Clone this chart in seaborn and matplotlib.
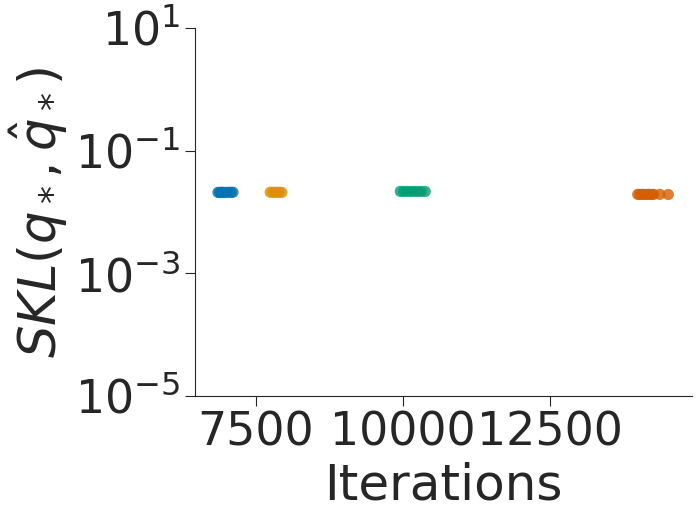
import seaborn as sns
import pandas as pd
import matplotlib.pyplot as plt

# iterations at which each run converged, and the SKL reached
blue_iters = [6852, 6880, 6904, 6930, 6955, 6989, 7040, 7074, 7108]
blue_skl = [0.0209, 0.0208, 0.0210, 0.0209, 0.0208, 0.0209, 0.0210, 0.0209, 0.0210]
orange_iters = [7740, 7780, 7820, 7860, 7900, 7940]
orange_skl = [0.0210, 0.0210, 0.0209, 0.0210, 0.0210, 0.0209]
green_iters = [9955, 10010, 10070, 10130, 10190, 10250, 10310, 10380]
green_skl = [0.0217, 0.0216, 0.0217, 0.0216, 0.0217, 0.0216, 0.0217, 0.0216]
red_iters = [13996, 14030, 14064, 14100, 14132, 14170, 14200, 14240, 14268, 14373, 14517]
red_skl = [0.0194, 0.0193, 0.0194, 0.0194, 0.0193, 0.0194, 0.0194, 0.0193, 0.0194, 0.0194, 0.0193]

groups = ['a', 'b', 'c', 'd']
data = pd.DataFrame({
    'Iterations': blue_iters + orange_iters + green_iters + red_iters,
    'SKL': blue_skl + orange_skl + green_skl + red_skl,
    'group': ['a'] * len(blue_iters) + ['b'] * len(orange_iters)
             + ['c'] * len(green_iters) + ['d'] * len(red_iters),
})

sns.set_style('ticks')
fig = plt.figure(figsize=(7, 5.19), dpi=100)
ax = fig.add_axes([0.279, 0.237, 0.710, 0.709])
sns.scatterplot(data=data, x='Iterations', y='SKL', hue='group', hue_order=groups,
                palette='colorblind', s=65, alpha=0.8, linewidth=0, legend=False, ax=ax)
ax.set_yscale('log')
ax.set_ylim(1e-5, 1e1)
ax.set_yticks([1e-5, 1e-3, 1e-1, 1e1])
ax.minorticks_off()
ax.set_xlim(6466, 14925)
ax.set_xticks([7500, 10000, 12500])
ax.tick_params(labelsize=33, length=7)
ax.set_xlabel('Iterations', fontsize=36)
ax.set_ylabel(r'$SKL(q_*,\hat{q}_*)$', fontsize=37)
sns.despine()
plt.savefig('out.png', dpi=100)
